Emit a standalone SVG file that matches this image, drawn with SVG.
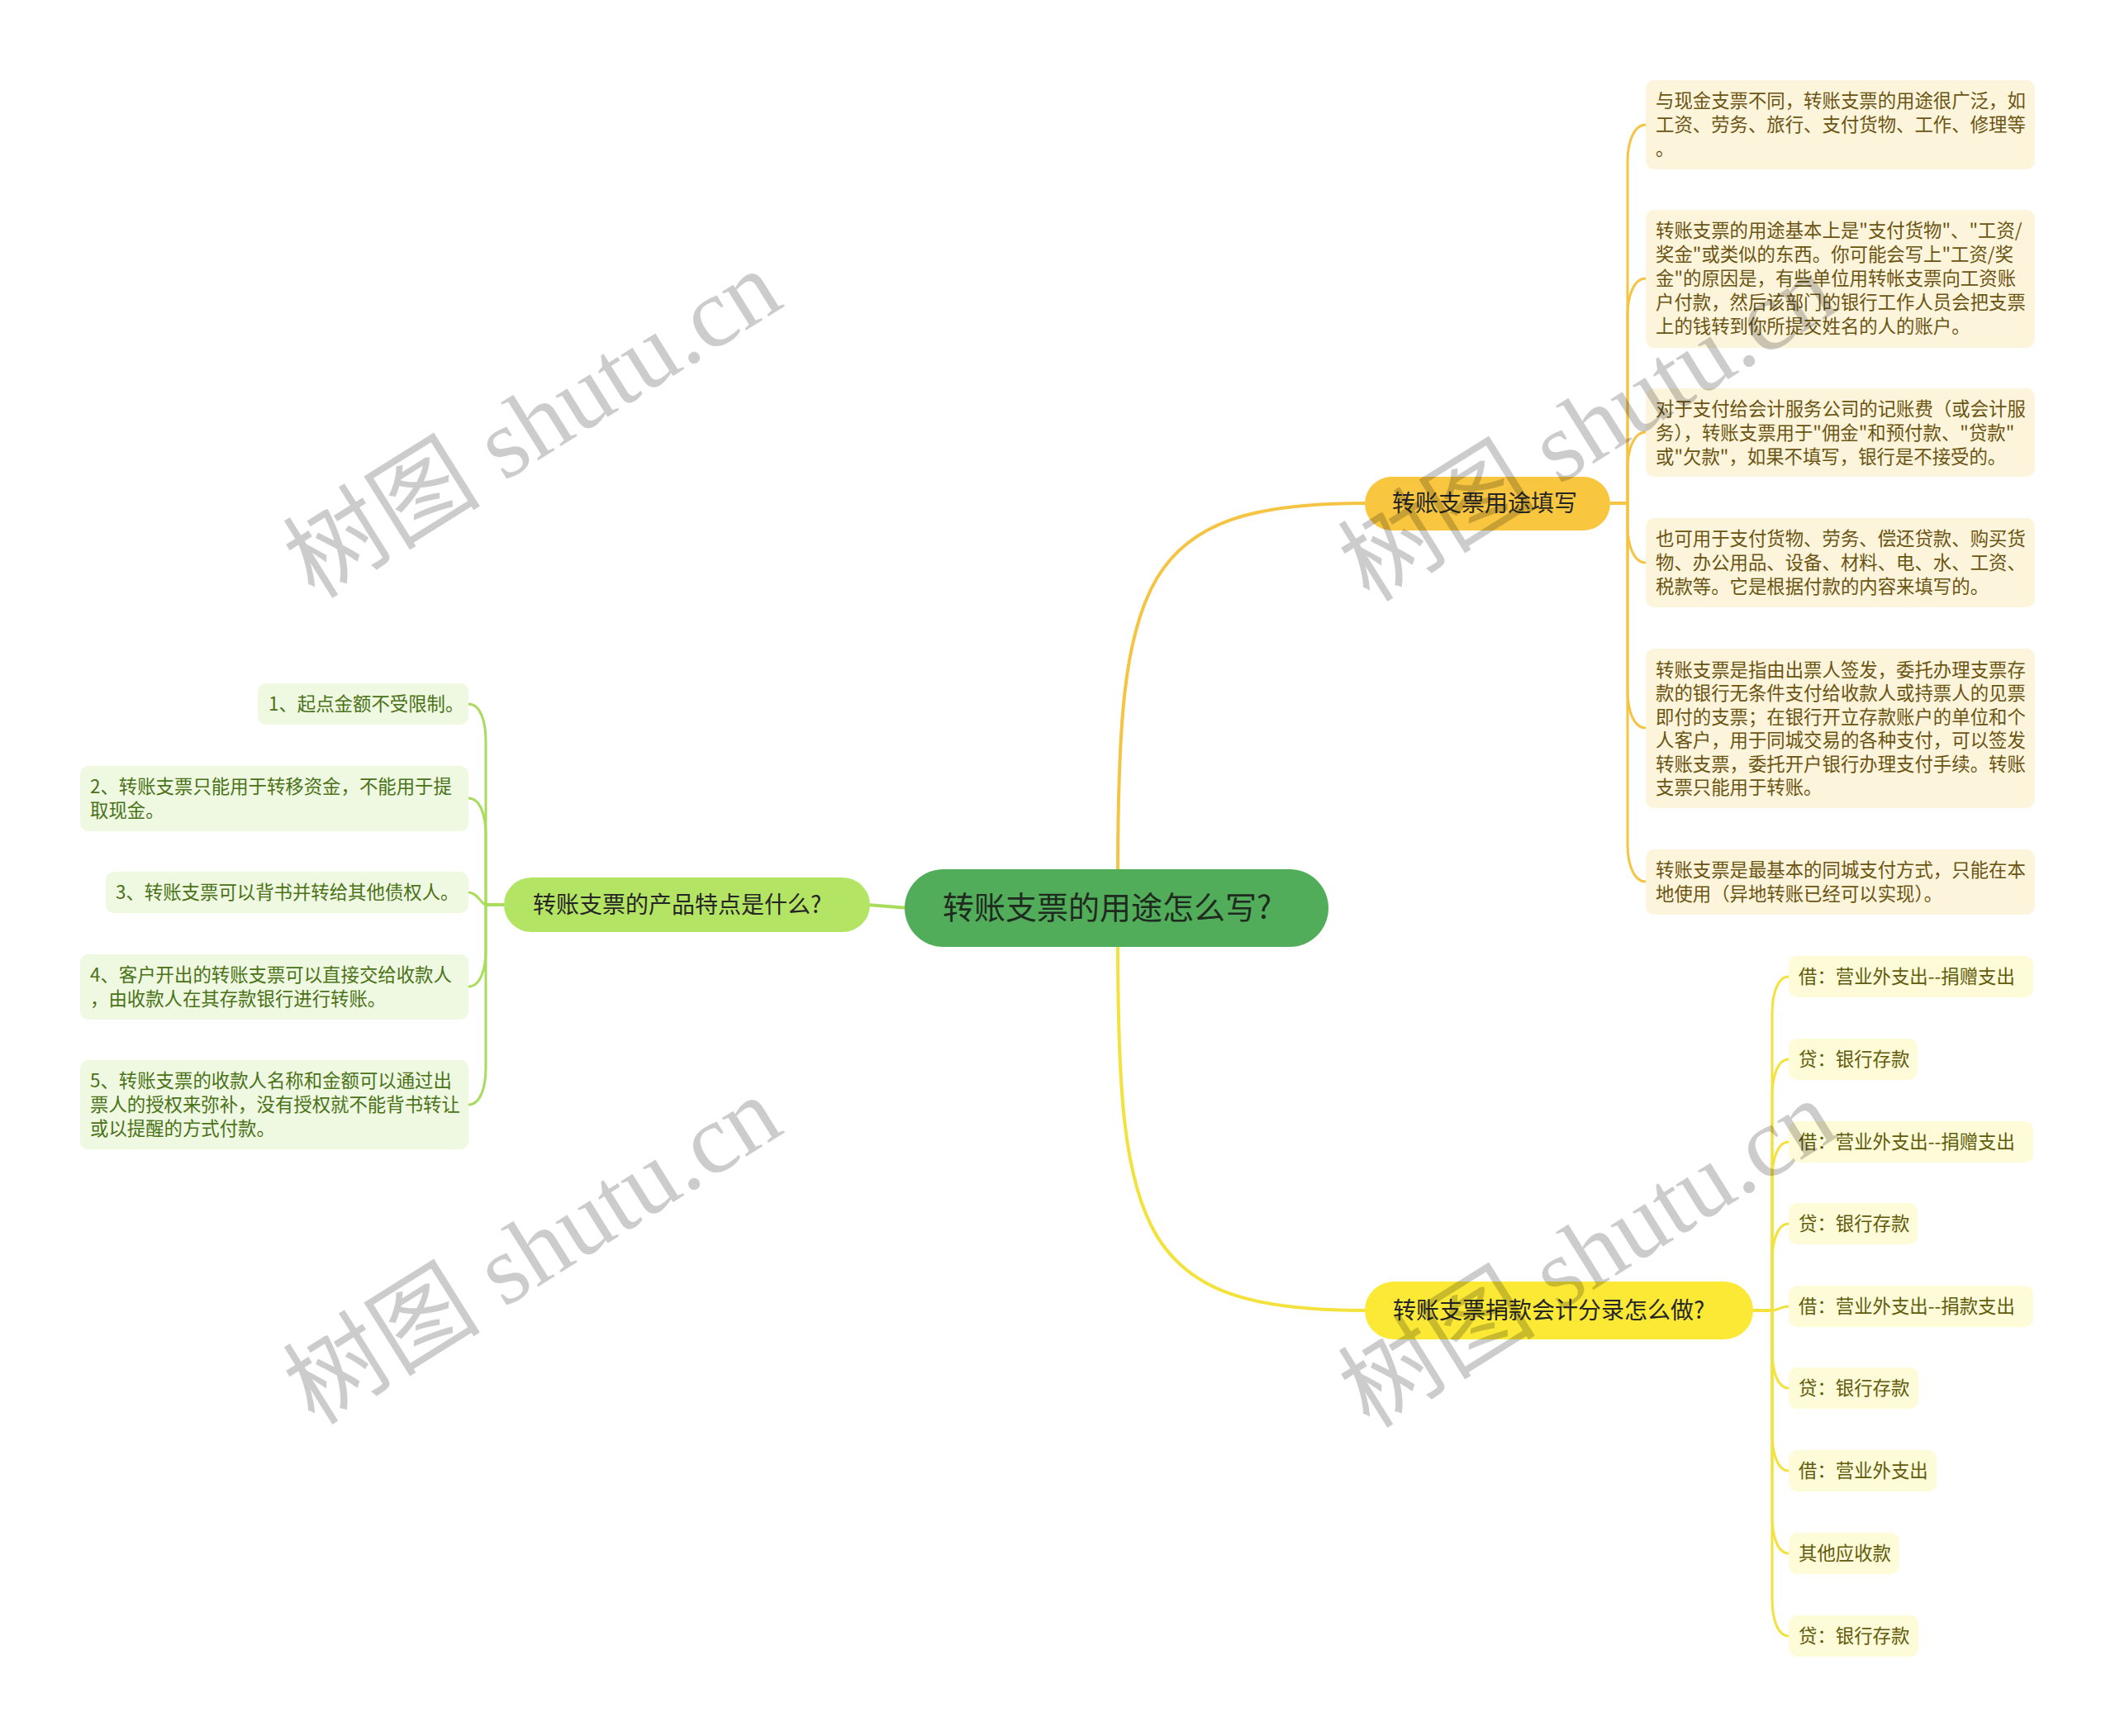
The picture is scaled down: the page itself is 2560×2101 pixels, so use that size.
<svg xmlns="http://www.w3.org/2000/svg" width="2560" height="2101" viewBox="0 0 2560 2101">
<style>
text{font-family:"Noto Sans CJK SC","Noto Sans",sans-serif;}
.cn{font-size:38px;fill:#1f2b1f;}
.bn{font-size:28px;fill:#262626;}
.lt{font-size:22.4px;}
.ur rect{fill:#fdf4dc;}
.ur text{fill:#6b5412;}
.lr rect{fill:#fefbd8;}
.lr text{fill:#615c0c;}
.ll rect{fill:#eff8e1;}
.ll text{fill:#4a7217;}
.c-or{fill:none;stroke:#f5c443;stroke-width:3;}
.c-ye{fill:none;stroke:#f4e23c;stroke-width:3;}
.c-gr{fill:none;stroke:#a9dc5c;stroke-width:3;}
.main{stroke-width:4;}
.wm{font-family:"Liberation Serif","Noto Sans CJK SC",serif;font-size:120px;fill:#000;fill-opacity:0.2;}
</style>
<rect width="2560" height="2101" fill="#ffffff"/>
<g id="connectors">
<path class="c-or main" d="M1353 1060 C1353 700 1380 609 1652 609"/>
<path class="c-ye main" d="M1353 1140 C1353 1495 1380 1586 1652 1586"/>
<path class="c-gr main" d="M1100 1099 L1050 1095"/>
<path class="c-or" d="M1949 609 H1970 V196 C1970 171 1978 151 1992 151"/>
<path class="c-or" d="M1949 609 H1970 V382 C1970 357 1978 337 1992 337"/>
<path class="c-or" d="M1949 609 H1970 V568 C1970 543 1978 523 1992 523"/>
<path class="c-or" d="M1949 609 H1970 V636 C1970 661 1978 681 1992 681"/>
<path class="c-or" d="M1949 609 H1970 V836 C1970 861 1978 881 1992 881"/>
<path class="c-or" d="M1949 609 H1970 V1022 C1970 1047 1978 1067 1992 1067"/>
<path class="c-ye" d="M2122 1586 H2145 V1227 C2145 1202 2152 1182 2165 1182"/>
<path class="c-ye" d="M2122 1586 H2145 V1327 C2145 1302 2152 1282 2165 1282"/>
<path class="c-ye" d="M2122 1586 H2145 V1427 C2145 1402 2152 1382 2165 1382"/>
<path class="c-ye" d="M2122 1586 H2145 V1526 C2145 1501 2152 1481 2165 1481"/>
<path class="c-ye" d="M2122 1586 H2145 C2152 1586 2155 1581 2165 1581"/>
<path class="c-ye" d="M2122 1586 H2145 V1635 C2145 1660 2152 1680 2165 1680"/>
<path class="c-ye" d="M2122 1586 H2145 V1735 C2145 1760 2152 1780 2165 1780"/>
<path class="c-ye" d="M2122 1586 H2145 V1835 C2145 1860 2152 1880 2165 1880"/>
<path class="c-ye" d="M2122 1586 H2145 V1935 C2145 1960 2152 1980 2165 1980"/>
<path class="c-gr" d="M610 1095 H588 V897 C588 872 581 852 567 852"/>
<path class="c-gr" d="M610 1095 H588 V1011 C588 986 581 966 567 966"/>
<path class="c-gr" d="M610 1095 H588 C583 1095 578 1080 567 1080"/>
<path class="c-gr" d="M610 1095 H588 V1150 C588 1174 581 1194 567 1194"/>
<path class="c-gr" d="M610 1095 H588 V1292 C588 1317 581 1337 567 1337"/>
</g>
<g id="center">
<rect x="1095" y="1052" width="513" height="94" rx="47" fill="#52ad5a"/>
<text class="cn" x="1141" y="1112">转账支票的用途怎么写?</text>
</g>
<g id="branch-left">
<rect x="610" y="1062" width="443" height="66" rx="33" fill="#b4e464"/>
<text class="bn" x="645" y="1105">转账支票的产品特点是什么?</text>
</g>
<g id="branch-upper">
<rect x="1652" y="577" width="297" height="65" rx="32.5" fill="#f9c73f"/>
<text class="bn" x="1685" y="619">转账支票用途填写</text>
</g>
<g id="branch-lower">
<rect x="1652" y="1551" width="470" height="70" rx="35" fill="#fbe936"/>
<text class="bn" x="1686" y="1596">转账支票捐款会计分录怎么做?</text>
</g>
<g class="ur">
<g id="ur1"><rect x="1992" y="97" width="471" height="108" rx="10"/>
<text class="lt" x="2004"><tspan x="2004" y="130">与现金支票不同，转账支票的用途很广泛，如</tspan><tspan x="2004" y="159">工资、劳务、旅行、支付货物、工作、修理等</tspan><tspan x="2004" y="188">。</tspan></text></g>
<g id="ur2"><rect x="1992" y="254" width="471" height="167" rx="10"/>
<text class="lt"><tspan x="2004" y="287">转账支票的用途基本上是"支付货物"、"工资/</tspan><tspan x="2004" y="316">奖金"或类似的东西。你可能会写上"工资/奖</tspan><tspan x="2004" y="345">金"的原因是，有些单位用转帐支票向工资账</tspan><tspan x="2004" y="374">户付款，然后该部门的银行工作人员会把支票</tspan><tspan x="2004" y="403">上的钱转到你所提交姓名的人的账户。</tspan></text></g>
<g id="ur3"><rect x="1992" y="470" width="471" height="107" rx="10"/>
<text class="lt"><tspan x="2004" y="503">对于支付给会计服务公司的记账费（或会计服</tspan><tspan x="2004" y="532">务），转账支票用于"佣金"和预付款、"贷款"</tspan><tspan x="2004" y="561">或"欠款"，如果不填写，银行是不接受的。</tspan></text></g>
<g id="ur4"><rect x="1992" y="627" width="471" height="108" rx="10"/>
<text class="lt"><tspan x="2004" y="660">也可用于支付货物、劳务、偿还贷款、购买货</tspan><tspan x="2004" y="689">物、办公用品、设备、材料、电、水、工资、</tspan><tspan x="2004" y="718">税款等。它是根据付款的内容来填写的。</tspan></text></g>
<g id="ur5"><rect x="1992" y="785" width="471" height="193" rx="10"/>
<text class="lt"><tspan x="2004" y="819">转账支票是指由出票人签发，委托办理支票存</tspan><tspan x="2004" y="847">款的银行无条件支付给收款人或持票人的见票</tspan><tspan x="2004" y="876">即付的支票；在银行开立存款账户的单位和个</tspan><tspan x="2004" y="904">人客户，用于同城交易的各种支付，可以签发</tspan><tspan x="2004" y="933">转账支票，委托开户银行办理支付手续。转账</tspan><tspan x="2004" y="961">支票只能用于转账。</tspan></text></g>
<g id="ur6"><rect x="1992" y="1028" width="471" height="79" rx="10"/>
<text class="lt"><tspan x="2004" y="1061">转账支票是最基本的同城支付方式，只能在本</tspan><tspan x="2004" y="1090">地使用（异地转账已经可以实现）。</tspan></text></g>
</g>
<g class="lr">
<g id="lr1"><rect x="2165" y="1157" width="296" height="50" rx="10"/><text class="lt" x="2177" y="1190">借：营业外支出--捐赠支出</text></g>
<g id="lr2"><rect x="2165" y="1257" width="156" height="50" rx="10"/><text class="lt" x="2177" y="1290">贷：银行存款</text></g>
<g id="lr3"><rect x="2165" y="1357" width="296" height="50" rx="10"/><text class="lt" x="2177" y="1390">借：营业外支出--捐赠支出</text></g>
<g id="lr4"><rect x="2165" y="1456" width="156" height="50" rx="10"/><text class="lt" x="2177" y="1489">贷：银行存款</text></g>
<g id="lr5"><rect x="2165" y="1556" width="296" height="50" rx="10"/><text class="lt" x="2177" y="1589">借：营业外支出--捐款支出</text></g>
<g id="lr6"><rect x="2165" y="1655" width="157" height="50" rx="10"/><text class="lt" x="2177" y="1688">贷：银行存款</text></g>
<g id="lr7"><rect x="2165" y="1755" width="179" height="50" rx="10"/><text class="lt" x="2177" y="1788">借：营业外支出</text></g>
<g id="lr8"><rect x="2165" y="1855" width="134" height="50" rx="10"/><text class="lt" x="2177" y="1888">其他应收款</text></g>
<g id="lr9"><rect x="2165" y="1955" width="157" height="50" rx="10"/><text class="lt" x="2177" y="1988">贷：银行存款</text></g>
</g>
<g class="ll">
<g id="ll1"><rect x="312" y="827" width="255" height="50" rx="10"/><text class="lt" x="325" y="860">1、起点金额不受限制。</text></g>
<g id="ll2"><rect x="97" y="927" width="470" height="79" rx="10"/><text class="lt"><tspan x="109" y="960">2、转账支票只能用于转移资金，不能用于提</tspan><tspan x="109" y="989">取现金。</tspan></text></g>
<g id="ll3"><rect x="128" y="1055" width="439" height="50" rx="10"/><text class="lt" x="140" y="1088">3、转账支票可以背书并转给其他债权人。</text></g>
<g id="ll4"><rect x="97" y="1155" width="470" height="79" rx="10"/><text class="lt"><tspan x="109" y="1188">4、客户开出的转账支票可以直接交给收款人</tspan><tspan x="109" y="1217">，由收款人在其存款银行进行转账。</tspan></text></g>
<g id="ll5"><rect x="97" y="1283" width="470" height="108" rx="10"/><text class="lt"><tspan x="109" y="1316">5、转账支票的收款人名称和金额可以通过出</tspan><tspan x="109" y="1345">票人的授权来弥补，没有授权就不能背书转让</tspan><tspan x="109" y="1374">或以提醒的方式付款。</tspan></text></g>
</g>
<g id="watermarks" text-anchor="middle">
<text class="wm" transform="translate(645 514) rotate(-32)" y="40">树图 shutu.cn</text>
<text class="wm" transform="translate(645 1514) rotate(-32)" y="40">树图 shutu.cn</text>
<text class="wm" transform="translate(1922 518) rotate(-32)" y="40">树图 shutu.cn</text>
<text class="wm" transform="translate(1922 1518) rotate(-32)" y="40">树图 shutu.cn</text>
</g>
</svg>
